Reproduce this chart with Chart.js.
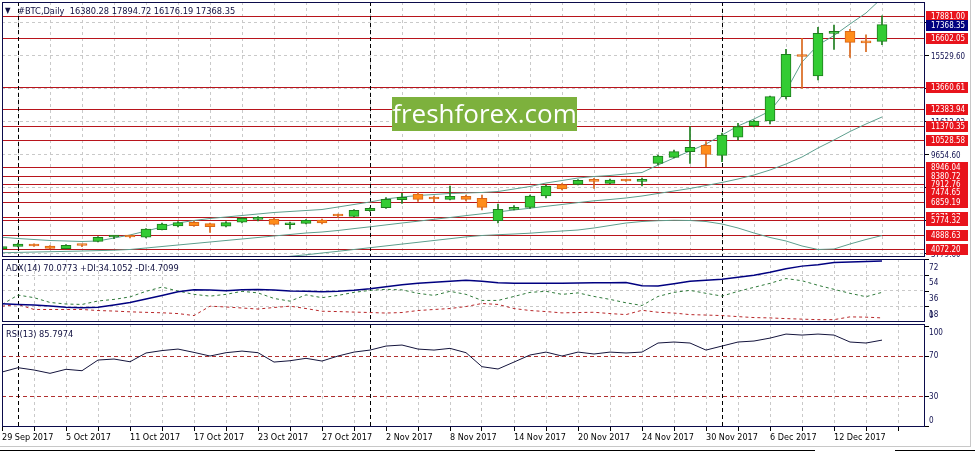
<!DOCTYPE html>
<html>
<head>
<meta charset="utf-8">
<title>#BTC,Daily</title>
<script src="https://cdn.jsdelivr.net/npm/chart.js@4.4.1/dist/chart.umd.min.js"></script>
<style>
  html, body { margin: 0; padding: 0; background: #fff; }
  body { width: 975px; height: 453px; position: relative; overflow: hidden; }
  canvas { position: absolute; left: 2px; }
  .lbl { position: absolute; font: 9.2px "DejaVu Sans Condensed", "DejaVu Sans", sans-serif; color: #101040; white-space: pre; line-height: 12px; }
  #wm { position: absolute; left: 392px; top: 97px; width: 185px; height: 34px; background: #7db13d; color: #fff;
        font: 26px "Open Sans", "DejaVu Sans", sans-serif; text-align: center; line-height: 33px; }
  .rule { position: absolute; }
</style>
</head>
<body>
<canvas id="priceChart" width="968" height="255" style="top:2px"></canvas>
<canvas id="adxChart" width="968" height="63" style="top:259px"></canvas>
<canvas id="rsiChart" width="968" height="123" style="top:324px"></canvas>

<div class="lbl" style="left:5px;top:5px;font-size:8px">▼</div>
<div class="lbl" style="left:18px;top:5px">#BTC,Daily  16380.28 17894.72 16176.19 17368.35</div>
<div class="lbl" style="left:6px;top:262px">ADX(14) 70.0773 +DI:34.1052 -DI:4.7099</div>
<div class="lbl" style="left:6px;top:328px">RSI(13) 85.7974</div>
<div id="wm">freshforex.com</div>
<div class="rule" style="left:970px;top:0;width:1px;height:447px;background:#c8c8c8"></div>
<div class="rule" style="left:0;top:446px;width:971px;height:1px;background:#c8c8c8"></div>
<div class="rule" style="left:0;top:450px;width:815px;height:1px;background:#000"></div>
<div class="rule" style="left:895px;top:450px;width:80px;height:1px;background:#000"></div>

<script>
// one label every 4 daily bars (weekdays only)
const tickLabels = ['29 Sep 2017', '5 Oct 2017', '11 Oct 2017', '17 Oct 2017', '23 Oct 2017', '27 Oct 2017',
  '2 Nov 2017', '8 Nov 2017', '14 Nov 2017', '20 Nov 2017', '24 Nov 2017', '30 Nov 2017', '6 Dec 2017', '12 Dec 2017'];

const open = [4071, 4231, 4350, 4249, 4089, 4308, 4527, 4783, 4824, 4765, 5215, 5434, 5654, 5571, 5417, 5654, 5831, 5849, 5511, 5594,
  5790, 6057, 6009, 6341, 6519, 6993, 7331, 7076, 7017, 7194, 7076, 5748, 6424, 6543, 7212, 7882, 7906, 8202, 7965, 8131,
  8084, 9150, 9506, 9838, 10217, 9625, 10692, 11361, 11658, 13098, 15510, 14325, 16856, 16974, 16400, 16380.28];
const high = [4308, 4427, 4379, 4279, 4338, 4326, 4812, 4883, 4871, 5286, 5612, 5701, 5731, 5612, 5701, 5938, 5986, 5908, 5672, 5820,
  5849, 6146, 6412, 6531, 7124, 7372, 7420, 7212, 7805, 7272, 7272, 6739, 6650, 7272, 7864, 7953, 8190, 8262, 8220, 8190,
  8279, 9643, 9939, 11320, 10431, 10947, 11521, 11717, 13140, 15907, 16559, 17211, 17348, 17093, 16760, 17894.72];
const low = [4012, 4190, 4220, 4071, 4071, 4207, 4486, 4682, 4723, 4723, 5197, 5375, 5405, 5061, 5375, 5612, 5731, 5494, 5258, 5553,
  5553, 5938, 5968, 6294, 6471, 6780, 6887, 6857, 6975, 6916, 6383, 5612, 6383, 6471, 7094, 7568, 7864, 7669, 7924, 8072,
  7805, 9050, 9465, 9150, 8949, 9245, 10531, 11302, 11480, 12962, 13596, 14088, 15907, 15433, 15770, 16176.19];
const close = [4220, 4367, 4249, 4112, 4290, 4279, 4765, 4812, 4783, 5257, 5553, 5630, 5452, 5393, 5630, 5891, 5861, 5535, 5612, 5772,
  5612, 6027, 6365, 6483, 7017, 7135, 7017, 7034, 7194, 7017, 6543, 6424, 6543, 7212, 7805, 7627, 8143, 8084, 8161, 8101,
  8202, 9583, 9838, 10099, 9684, 10828, 11320, 11658, 13098, 15611, 15480, 16856, 16974, 16322, 16290, 17368.35];

// Bollinger bands
const bbUpper = [4765, 4693, 4634, 4575, 4545, 4516, 4545, 4723, 4901, 5138, 5375, 5612, 5761, 5879, 5968, 6057, 6146, 6235, 6294, 6353,
  6412, 6560, 6709, 6857, 7035, 7153, 7242, 7301, 7361, 7390, 7420, 7479, 7627, 7776, 7983, 8131, 8279, 8368, 8428, 8516,
  8605, 9050, 9465, 9880, 10294, 10828, 11361, 11776, 12250, 13436, 15155, 16162, 16725, 17407, 18059, 18948];
const bbMid = [3850, 3870, 3890, 3910, 3930, 3950, 3975, 4000, 4042, 4131, 4219, 4308, 4397, 4486, 4575, 4664, 4753, 4842, 4931, 5019,
  5078, 5168, 5280, 5387, 5500, 5612, 5719, 5831, 5938, 6051, 6157, 6270, 6383, 6489, 6602, 6709, 6821, 6928, 7005, 7094,
  7212, 7361, 7509, 7657, 7835, 8013, 8220, 8457, 8754, 9109, 9524, 10057, 10531, 11036, 11480, 11895];
const bbLower = [null, null, null, null, null, null, null, null, null, null, null, null, null, null, null, null, null, 3538, 3638, 3727,
  3834, 3935, 4042, 4148, 4255, 4362, 4468, 4575, 4682, 4788, 4871, 4919, 4960, 5008, 5078, 5138, 5197, 5316, 5464, 5612,
  5701, 5747, 5772, 5760, 5701, 5553, 5316, 5019, 4753, 4546, 4249, 4042, 4071, 4368, 4634, 4871];

const levels = [17881.00, 16602.05, 13660.61, 12383.94, 11370.35, 10528.58, 8946.04, 8380.72, 7912.76, 7474.65,
  6859.19, 5971.97, 5774.32, 4888.63, 4072.20];
const bid = 17368.35;
const priceTicks = [3779.60, 5737.93, 7696.27, 9654.60, 11612.93, 13571.27, 15529.60, 17487.93];

const adx = [20.97, 20.2, 19.6, 18.4, 16.9, 16.3, 17.0, 19.6, 22.5, 26.5, 30.6, 34.7, 37.2, 36.8, 36.1, 37.0, 37.3, 36.9, 35.8, 35.3,
  34.9, 35.3, 36.4, 38.2, 40.5, 42.8, 44.5, 45.7, 46.9, 48.0, 46.9, 45.1, 44.5, 44.5, 44.5, 44.5, 44.8, 45.1, 45.1, 45.4,
  41.6, 41.4, 44.0, 46.9, 48.0, 49.2, 51.5, 53.8, 57.3, 61.4, 64.3, 66.0, 68.6, 69.0, 69.5, 70.08];
const plusDI = [20.2, 31.0, 28.0, 22.5, 20.7, 20.2, 24.2, 26.0, 28.9, 35.3, 40.2, 35.6, 31.8, 29.8, 31.8, 35.3, 33.5, 27.1, 24.0, 31.2,
  28.0, 30.6, 34.1, 36.4, 37.6, 37.0, 33.0, 30.6, 35.3, 31.8, 24.8, 24.8, 29.4, 34.1, 35.3, 31.8, 33.5, 29.4, 26.0, 22.1,
  19.0, 29.4, 34.1, 36.4, 33.0, 29.8, 35.3, 39.9, 44.5, 50.0, 47.5, 42.2, 37.6, 33.0, 29.1, 34.11];
const minusDI = [18.2, 20.2, 14.4, 14.4, 14.4, 14.4, 13.2, 12.6, 11.7, 11.1, 10.6, 9.7, 7.4, 18.2, 17.3, 16.1, 14.9, 16.7, 18.2, 15.5,
  12.4, 12.0, 11.4, 10.9, 10.3, 10.9, 13.2, 14.4, 15.5, 17.8, 21.3, 20.2, 15.5, 13.2, 12.0, 10.5, 10.9, 11.2, 9.7, 8.5,
  13.5, 11.2, 10.3, 8.5, 8.0, 7.4, 6.2, 5.1, 4.7, 3.9, 3.3, 2.7, 2.7, 5.9, 5.6, 4.71];
const adxTicks = [0, 18, 36, 54, 72];

const rsi = [54.1, 58.4, 56.1, 52.8, 56.8, 55.4, 66.0, 67.0, 64.3, 73.0, 75.4, 76.9, 73.6, 70.0, 73.3, 74.9, 73.3, 64.0, 65.3, 67.7,
  65.0, 70.0, 73.9, 75.9, 79.9, 80.9, 76.9, 75.9, 77.6, 73.3, 59.4, 57.1, 64.0, 71.0, 73.9, 70.0, 73.9, 72.0, 73.9, 73.0,
  73.9, 82.9, 83.9, 82.9, 75.9, 79.9, 83.9, 84.9, 87.8, 91.8, 90.8, 91.8, 90.8, 83.9, 82.9, 85.8];
const rsiLevels = [30, 70];
const rsiTicks = [0, 30, 70, 100];

// monthly period separators (first bar of Oct, Nov, Dec)
const separators = [1, 23, 45];

const FONT = "'DejaVu Sans Condensed', 'DejaVu Sans', sans-serif";
const GRID = '#c9c9c9';
const FRAME = '#0b0b4b';
const AXIS_W = 45;
const X_MAX = 57.6875;   // 923 px of plot / 16 px per bar

const up = close.map((c, i) => c >= open[i]);
const bodyFill = up.map(u => u ? '#33cc33' : '#ff8c1a');
const bodyEdge = up.map(u => u ? '#1e7d1e' : '#d9661a');
const pts = arr => arr.map((v, i) => ({ x: i, y: v }));

function xAxis(showLabels) {
  return {
    type: 'linear', min: 0, max: X_MAX, offset: false,
    afterBuildTicks: s => {
      s.ticks = [];
      for (let v = 0; v <= tickLabels.length * 4; v += 2) s.ticks.push({ value: v });
    },
    afterFit: s => { s.paddingLeft = 0; s.paddingRight = 0; s.height = showLabels ? 20 : 0; },
    grid: { color: GRID, drawTicks: showLabels, tickLength: 4, tickColor: '#000' },
    border: { display: false, dash: [3, 3] },
    ticks: {
      display: showLabels, autoSkip: false, maxRotation: 0, minRotation: 0, align: 'start',
      padding: 1, color: '#000', font: { family: FONT, size: 9 },
      callback: v => (v % 4 === 0 && tickLabels[v / 4]) ? tickLabels[v / 4] : ''
    }
  };
}

// narrow text, like the terminal's screen font
function squeeze(ctx, text, x, y, sx) {
  ctx.save();
  ctx.translate(x, y);
  ctx.scale(sx, 1);
  ctx.fillText(text, 0, 0);
  ctx.restore();
}

function drawFrame(chart) {
  const { ctx, chartArea: a } = chart;
  ctx.save();
  ctx.strokeStyle = FRAME;
  ctx.lineWidth = 1;
  ctx.strokeRect(a.left + 0.5, a.top + 0.5, a.right - a.left - 1, a.bottom - a.top - 1);
  ctx.restore();
}

function drawSeparators(chart) {
  const { ctx, chartArea: a, scales: { x } } = chart;
  ctx.save();
  ctx.strokeStyle = '#000';
  ctx.setLineDash([4, 3]);
  separators.forEach(i => {
    const px = Math.round(x.getPixelForValue(i)) + 0.5;
    ctx.beginPath(); ctx.moveTo(px, a.top); ctx.lineTo(px, a.bottom); ctx.stroke();
  });
  ctx.restore();
}

// labels stay inside the window; shift = where the text sits relative to its level
function drawSideLabels(chart, values, shift, topPad) {
  const { ctx, chartArea: a, scales: { y } } = chart;
  ctx.save();
  ctx.font = '9px ' + FONT;
  ctx.textBaseline = 'middle';
  values.forEach(v => {
    const py = y.getPixelForValue(v);
    if (py >= a.top && py <= a.bottom) {
      ctx.fillStyle = '#000';
      ctx.fillRect(a.right, Math.round(py), 4, 1);
    }
    const ly = Math.min(Math.max(py + shift, a.top + topPad), a.bottom - 6);
    ctx.fillStyle = '#101050';
    squeeze(ctx, String(v), a.right + 4, ly, 0.9);
  });
  ctx.restore();
}

function drawTag(ctx, x, py, text, bg) {
  const top = Math.round(py) - 5;
  ctx.fillStyle = bg;
  ctx.fillRect(x, top, 42, 11);
  ctx.fillStyle = '#fff';
  squeeze(ctx, text, x + 5, top + 6, 0.88);
}

const priceDecor = {
  id: 'priceDecor',
  beforeDatasetsDraw(chart) {
    const { ctx, chartArea: a, scales: { y } } = chart;
    ctx.save();
    ctx.strokeStyle = '#b8141c';
    ctx.lineWidth = 1.2;
    levels.forEach(v => {
      const py = Math.round(y.getPixelForValue(v)) + 0.5;
      ctx.beginPath(); ctx.moveTo(a.left, py); ctx.lineTo(a.right, py); ctx.stroke();
    });
    ctx.restore();
    drawSeparators(chart);
  },
  afterDraw(chart) {
    drawFrame(chart);
    const { ctx, chartArea: a, scales: { y } } = chart;
    ctx.save();
    ctx.font = '9px ' + FONT;
    ctx.textBaseline = 'middle';
    ctx.fillStyle = '#101050';
    y.ticks.forEach(t => squeeze(ctx, t.value.toFixed(2), a.right + 6, y.getPixelForValue(t.value) + 1, 0.88));
    levels.forEach(v => drawTag(ctx, a.right + 1, y.getPixelForValue(v), v.toFixed(2), '#e8141c'));
    drawTag(ctx, a.right + 1, y.getPixelForValue(bid), bid.toFixed(2), '#000080');
    ctx.restore();
  }
};

new Chart(document.getElementById('priceChart'), {
  type: 'bar',
  data: {
    datasets: [
      { label: 'body', data: open.map((o, i) => ({ x: i, y: [o, close[i]] })), backgroundColor: bodyFill,
        borderColor: bodyEdge, borderWidth: 1, borderSkipped: false, barThickness: 10, minBarLength: 2, grouped: false, order: 0 },
      { label: 'wick', data: low.map((l, i) => ({ x: i, y: [l, high[i]] })), backgroundColor: bodyEdge,
        barThickness: 1, grouped: false, order: 1 },
      { type: 'line', label: 'upper', data: pts(bbUpper), borderColor: '#5e9f8e', borderWidth: 1, pointRadius: 0, order: 2 },
      { type: 'line', label: 'middle', data: pts(bbMid), borderColor: '#5e9f8e', borderWidth: 1, pointRadius: 0, order: 2 },
      { type: 'line', label: 'lower', data: pts(bbLower), borderColor: '#5e9f8e', borderWidth: 1, pointRadius: 0, order: 2 }
    ]
  },
  options: {
    responsive: false, animation: false, events: [],
    layout: { padding: 0 },
    plugins: { legend: { display: false }, tooltip: { enabled: false } },
    scales: {
      x: xAxis(false),
      y: {
        position: 'right', min: 3597, max: 18711,
        afterBuildTicks: s => { s.ticks = priceTicks.map(v => ({ value: v })); },
        afterFit: s => { s.width = AXIS_W; s.paddingTop = 0; s.paddingBottom = 0; },
        grid: { color: GRID, tickLength: 4, tickColor: '#000' },
        border: { display: false, dash: [3, 3] },
        ticks: { display: false }
      }
    }
  },
  plugins: [priceDecor]
});

new Chart(document.getElementById('adxChart'), {
  type: 'line',
  data: {
    datasets: [
      { label: 'ADX', data: pts(adx), borderColor: '#000080', borderWidth: 1.5, pointRadius: 0 },
      { label: '+DI', data: pts(plusDI), borderColor: '#2f7a3a', borderWidth: 1, borderDash: [3, 3], pointRadius: 0 },
      { label: '-DI', data: pts(minusDI), borderColor: '#b8282a', borderWidth: 1, borderDash: [3, 3], pointRadius: 0 }
    ]
  },
  options: {
    responsive: false, animation: false, events: [],
    layout: { padding: 0 },
    plugins: { legend: { display: false }, tooltip: { enabled: false } },
    scales: {
      x: xAxis(false),
      y: {
        position: 'right', min: 0, max: 72.5,
        afterBuildTicks: s => { s.ticks = adxTicks.map(v => ({ value: v })); },
        afterFit: s => { s.width = AXIS_W; s.paddingTop = 0; s.paddingBottom = 0; },
        grid: { color: GRID, drawTicks: false },
        border: { display: false, dash: [3, 3] },
        ticks: { display: false }
      }
    }
  },
  plugins: [{
    id: 'adxDecor',
    beforeDatasetsDraw: drawSeparators,
    afterDraw(chart) { drawFrame(chart); drawSideLabels(chart, adxTicks.slice().reverse(), 8, 8); }
  }]
});

new Chart(document.getElementById('rsiChart'), {
  type: 'line',
  data: {
    datasets: [
      { label: 'RSI', data: pts(rsi), borderColor: '#14143c', borderWidth: 1, pointRadius: 0 }
    ]
  },
  options: {
    responsive: false, animation: false, events: [],
    layout: { padding: 0 },
    plugins: { legend: { display: false }, tooltip: { enabled: false } },
    scales: {
      x: xAxis(true),
      y: {
        position: 'right', min: -0.5, max: 101.8,
        afterFit: s => { s.width = AXIS_W; s.paddingTop = 0; s.paddingBottom = 0; },
        grid: { display: false },
        border: { display: false },
        ticks: { display: false }
      }
    }
  },
  plugins: [{
    id: 'rsiDecor',
    beforeDatasetsDraw(chart) {
      const { ctx, chartArea: a, scales: { y } } = chart;
      ctx.save();
      ctx.strokeStyle = '#b03030';
      ctx.setLineDash([4, 3]);
      rsiLevels.forEach(v => {
        const py = Math.round(y.getPixelForValue(v)) + 0.5;
        ctx.beginPath(); ctx.moveTo(a.left, py); ctx.lineTo(a.right, py); ctx.stroke();
      });
      ctx.restore();
      drawSeparators(chart);
    },
    afterDraw(chart) { drawFrame(chart); drawSideLabels(chart, rsiTicks.slice().reverse(), 0, 9); }
  }]
});
</script>
</body>
</html>
